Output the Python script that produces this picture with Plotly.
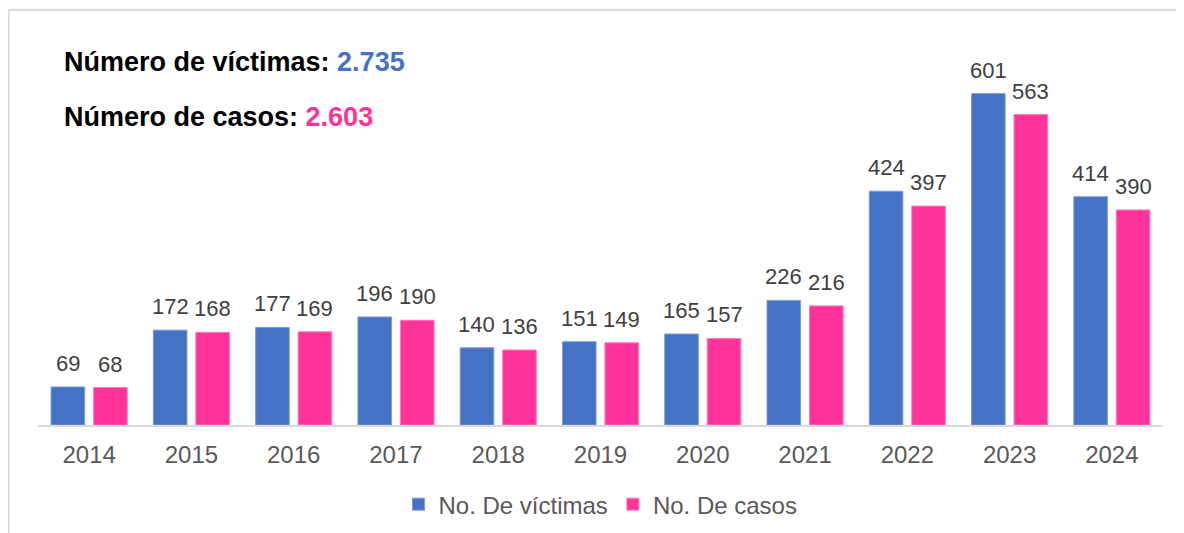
import plotly.graph_objects as go

years = ["2014", "2015", "2016", "2017", "2018", "2019", "2020", "2021", "2022", "2023", "2024"]
victimas = [69, 172, 177, 196, 140, 151, 165, 226, 424, 601, 414]
casos = [68, 168, 169, 190, 136, 149, 157, 216, 397, 563, 390]
total_victimas = "2.735"
total_casos = "2.603"

BLUE = "#4472C4"
PINK = "#FF3399"
FONT = "Liberation Sans, Arial, sans-serif"

fig = go.Figure()
fig.add_trace(go.Bar(x=years, y=victimas, name="No. De víctimas",
                     marker=dict(color=BLUE, line=dict(color="#7C9BD6", width=1))))
fig.add_trace(go.Bar(x=years, y=casos, name="No. De casos",
                     marker=dict(color=PINK, line=dict(color="#FF77BB", width=1))))

annotations = []
slot_px = 42.5
for xs, series in ((-slot_px / 2, victimas), (slot_px / 2, casos)):
    for i, v in enumerate(series):
        annotations.append(dict(x=i, y=v, xref="x", yref="y", text=str(v),
                                showarrow=False, xanchor="center", yanchor="bottom",
                                xshift=xs, yshift=9,
                                font=dict(family=FONT, size=22, color="#404040")))

annotations.append(dict(x=0.0213, y=0.994, xref="paper", yref="paper", xanchor="left", yanchor="middle",
                        showarrow=False,
                        text=f"<b>Número de víctimas: <span style='color:{BLUE}'>{total_victimas}</span></b>",
                        font=dict(family=FONT, size=27, color="#000000")))
annotations.append(dict(x=0.0213, y=0.8435, xref="paper", yref="paper", xanchor="left", yanchor="middle",
                        showarrow=False,
                        text=f"<b>Número de casos: <span style='color:{PINK}'>{total_casos}</span></b>",
                        font=dict(family=FONT, size=27, color="#000000")))

shapes = [
    dict(type="line", xref="paper", yref="paper", x0=-0.0262, x1=1.05, y0=1.1375, y1=1.1375,
         line=dict(color="#D9D9D9", width=2)),
    dict(type="line", xref="paper", yref="paper", x0=-0.0262, x1=-0.0262, y0=1.1375, y1=-0.35,
         line=dict(color="#D9D9D9", width=2)),
]

# page body has an 8px margin, so the figure is sized/offset to compensate
fig.update_layout(
    width=1176, height=525,
    margin=dict(l=30, r=21, t=52, b=108, autoexpand=False),
    paper_bgcolor="white", plot_bgcolor="white",
    barmode="group", bargap=0.169, bargroupgap=0.21,
    font=dict(family=FONT, color="#595959"),
    xaxis=dict(type="category", range=[-0.5, 10.5], showline=True, linecolor="#D9D9D9", linewidth=2,
               showgrid=False, ticks="",
               tickfont=dict(family=FONT, size=24, color="#595959"), ticklabelstandoff=7,
               automargin=False),
    yaxis=dict(visible=False, range=[0, 662], showgrid=False, zeroline=False, automargin=False),
    legend=dict(orientation="h", x=0.5, xanchor="center", y=-0.218, yanchor="middle",
                font=dict(family=FONT, size=24, color="#595959"), itemwidth=30,
                traceorder="normal"),
    annotations=annotations,
    shapes=shapes,
)

fig.write_html("out.html")
